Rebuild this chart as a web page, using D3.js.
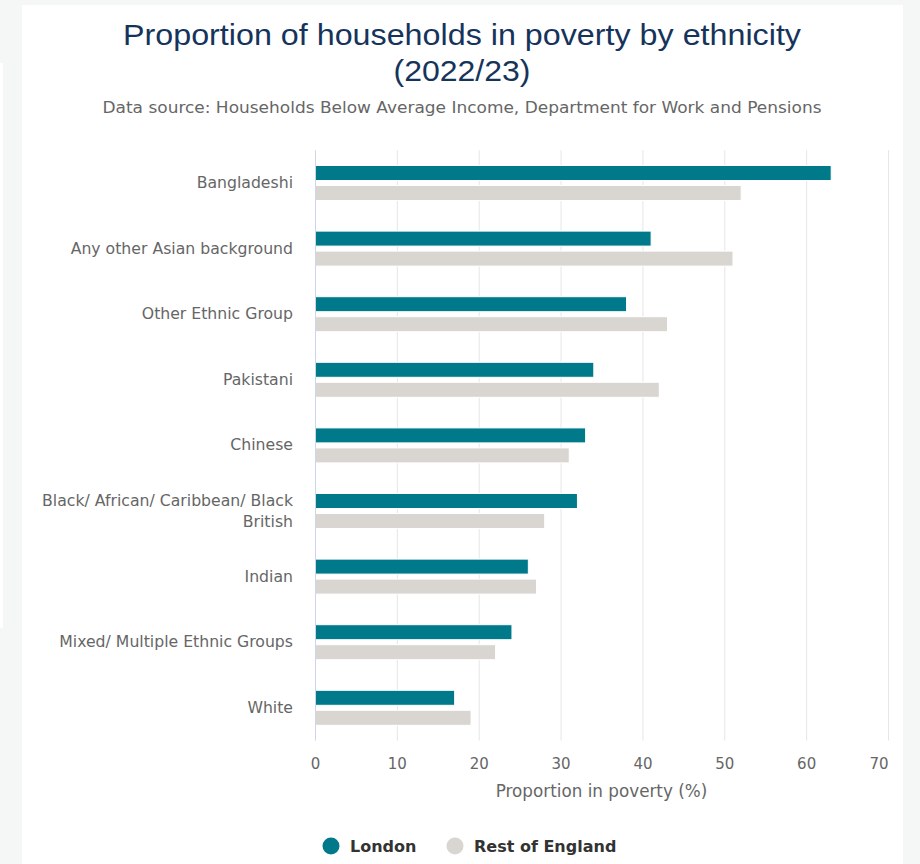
<!DOCTYPE html>
<html>
<head>
<meta charset="utf-8">
<script src="https://cdn.jsdelivr.net/npm/d3@7"></script>
<style>
  html, body { margin: 0; padding: 0; background: #f5f7f7; }
  svg { display: block; }
</style>
</head>
<body>
<svg id="chart" width="920" height="864"></svg>
<script>
// Poverty rates (%) by ethnic group, 2022/23
const categories = [
  "Bangladeshi",
  "Any other Asian background",
  "Other Ethnic Group",
  "Pakistani",
  "Chinese",
  "Black/ African/ Caribbean/ Black British",
  "Indian",
  "Mixed/ Multiple Ethnic Groups",
  "White"
];
const seriesNames = ["London", "Rest of England"];
const londonValues = [63, 41, 38, 34, 33, 32, 26, 24, 17];
const restOfEnglandValues = [52, 51, 43, 42, 31, 28, 27, 22, 19];
const xTicks = [0, 10, 20, 30, 40, 50, 60, 70];

const colors = { "London": "#00798a", "Rest of England": "#d9d6d2" };
const labelFont = "'DejaVu Sans', Verdana, sans-serif";
const titleFont = "'Liberation Sans', Arial, sans-serif";

const svg = d3.select("#chart");

// page panel
svg.append("rect").attr("x", 0).attr("y", 63).attr("width", 3).attr("height", 565).attr("fill", "#ffffff");
svg.append("rect").attr("x", 22).attr("y", 5).attr("width", 881).attr("height", 859).attr("fill", "#ffffff");

// titles
svg.append("text")
  .attr("x", 462).attr("y", 45)
  .attr("text-anchor", "middle")
  .attr("textLength", 678).attr("lengthAdjust", "spacingAndGlyphs")
  .style("font-family", titleFont)
  .style("font-size", "29px")
  .attr("fill", "#16345b")
  .text("Proportion of households in poverty by ethnicity");
svg.append("text")
  .attr("x", 462).attr("y", 81)
  .attr("text-anchor", "middle")
  .attr("textLength", 137).attr("lengthAdjust", "spacingAndGlyphs")
  .style("font-family", titleFont)
  .style("font-size", "29px")
  .attr("fill", "#16345b")
  .text("(2022/23)");
svg.append("text")
  .attr("x", 462).attr("y", 113)
  .attr("text-anchor", "middle")
  .attr("textLength", 719).attr("lengthAdjust", "spacingAndGlyphs")
  .style("font-family", labelFont)
  .style("font-size", "16.5px")
  .attr("fill", "#666666")
  .text("Data source: Households Below Average Income, Department for Work and Pensions");

const plot = { left: 315, right: 888, top: 150.2, bottom: 740.6 };

const x = d3.scaleLinear().domain([0, 70]).range([plot.left, plot.right]);
const y = d3.scaleBand().domain(categories).range([plot.top, plot.bottom]).padding(0);
const inner = d3.scaleBand().domain(seriesNames).range([-17.5, 17.5]).paddingInner(0.25).paddingOuter(0);

// gridlines
svg.append("g")
  .selectAll("line")
  .data(xTicks.filter(t => t > 0))
  .join("line")
  .attr("x1", d => x(d) + 0.5).attr("x2", d => x(d) + 0.5)
  .attr("y1", plot.top).attr("y2", plot.bottom)
  .attr("stroke", "#e6e6e6").attr("stroke-width", 1);

// bars
const rows = categories.map((c, i) => ({
  category: c,
  values: [
    { series: "London", value: londonValues[i] },
    { series: "Rest of England", value: restOfEnglandValues[i] }
  ]
}));

const groups = svg.append("g")
  .selectAll("g")
  .data(rows)
  .join("g")
  .attr("transform", d => `translate(0,${y(d.category) + y.bandwidth() / 2})`);

groups.selectAll("rect")
  .data(d => d.values)
  .join("rect")
  .attr("x", x(0) + 0.5)
  .attr("y", d => inner(d.series))
  .attr("width", d => x(d.value) - x(0))
  .attr("height", inner.bandwidth())
  .attr("fill", d => colors[d.series])
  .attr("stroke", "#ffffff")
  .attr("stroke-width", 1);

// category axis line
svg.append("line")
  .attr("x1", plot.left + 0.5).attr("x2", plot.left + 0.5)
  .attr("y1", plot.top).attr("y2", plot.bottom)
  .attr("stroke", "#ccd6eb").attr("stroke-width", 1);

// category labels (wrapped where long)
const wrapped = {
  "Black/ African/ Caribbean/ Black British": ["Black/ African/ Caribbean/ Black", "British"]
};
const yAxis = svg.append("g")
  .attr("transform", `translate(${plot.left - 22},0)`)
  .call(d3.axisLeft(y).tickSize(0).tickPadding(0).tickFormat(""));
yAxis.select(".domain").remove();
yAxis.selectAll(".tick").each(function(d) {
  const lines = wrapped[d] || [d];
  const t = d3.select(this).select("text")
    .attr("text-anchor", "end")
    .attr("dy", null)
    .style("font-family", labelFont)
    .style("font-size", "15.7px")
    .attr("fill", "#666666");
  const lh = 21;
  const y0 = -(lines.length - 1) * lh / 2 + 5;
  lines.forEach((ln, k) => {
    t.append("tspan").attr("x", 0).attr("y", y0 + k * lh).text(ln);
  });
});

// value axis
const xAxis = svg.append("g")
  .attr("transform", `translate(0,${plot.bottom})`)
  .call(d3.axisBottom(x).tickValues(xTicks).tickSize(0).tickPadding(0).tickFormat(d3.format("d")));
xAxis.select(".domain").remove();
xAxis.selectAll("text")
  .attr("y", 28)
  .attr("dy", null)
  .style("font-family", labelFont)
  .style("font-size", "15px")
  .attr("fill", "#666666");
// keep the last label inside the plot edge
xAxis.selectAll(".tick")
  .filter(d => d === xTicks[xTicks.length - 1])
  .select("text")
  .attr("text-anchor", "end")
  .attr("x", 0);

svg.append("text")
  .attr("x", (plot.left + plot.right) / 2).attr("y", 797)
  .attr("text-anchor", "middle")
  .style("font-family", labelFont)
  .style("font-size", "16.8px")
  .attr("fill", "#666666")
  .text("Proportion in poverty (%)");

// legend
const legendItems = [
  { name: "London", cx: 331 },
  { name: "Rest of England", cx: 455 }
];
const legend = svg.append("g");
legendItems.forEach(item => {
  legend.append("circle")
    .attr("cx", item.cx).attr("cy", 846).attr("r", 8.5)
    .attr("fill", colors[item.name]);
  legend.append("text")
    .attr("x", item.cx + 19).attr("y", 852)
    .style("font-family", labelFont)
    .style("font-size", "16px")
    .style("font-weight", "bold")
    .attr("fill", "#333333")
    .text(item.name);
});
</script>
</body>
</html>
